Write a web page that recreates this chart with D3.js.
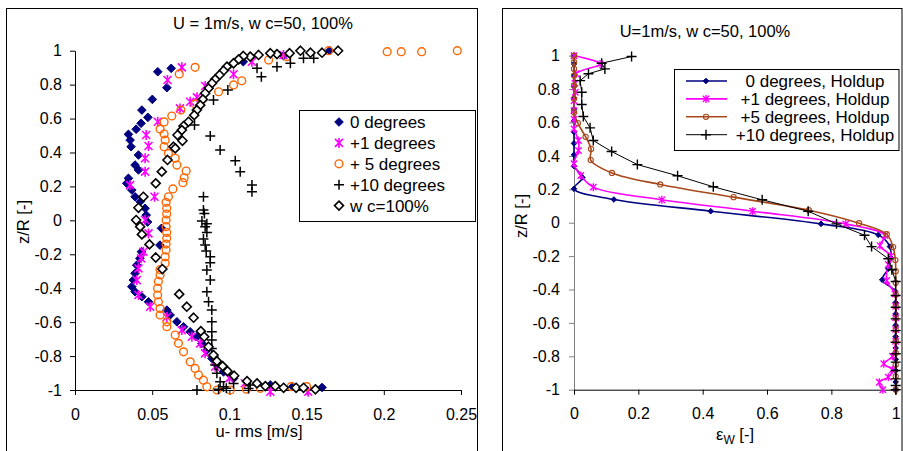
<!DOCTYPE html>
<html><head><meta charset="utf-8">
<script src="https://cdn.jsdelivr.net/npm/d3@7"></script>
<style>
body{margin:0;background:#fff}
svg{display:block}
text{font-family:"Liberation Sans",Arial,Helvetica,sans-serif;fill:#000}
</style>
</head><body>
<svg id="chart" width="903" height="451"></svg>
<script>
// ---------- u-rms profiles, [u-rms (m/s), z/R] ----------
const rms0deg = [[0.0536,0.876],[0.0623,0.896],[0.0595,0.782],[0.0501,0.713],[0.0433,0.650],[0.0472,0.607],[0.0428,0.572],[0.0396,0.537],[0.0346,0.507],[0.0357,0.473],[0.0363,0.434],[0.0411,0.385],[0.0389,0.326],[0.0411,0.297],[0.0346,0.248],[0.0335,0.218],[0.0368,0.179],[0.0389,0.139],[0.0422,0.110],[0.0454,0.071],[0.0461,0.031],[0.047,-0.01],[0.056,-0.047],[0.055,-0.146],[0.043,-0.185],[0.042,-0.224],[0.040,-0.264],[0.0389,-0.312],[0.0378,-0.352],[0.0368,-0.391],[0.0389,-0.421],[0.0433,-0.450],[0.0476,-0.480],[0.0595,-0.529],[0.0616,-0.558],[0.0660,-0.598],[0.0703,-0.627],[0.0746,-0.657],[0.0790,-0.686],[0.0822,-0.725],[0.0854,-0.765],[0.0887,-0.814],[0.0919,-0.853],[0.0962,-0.893],[0.1027,-0.932],[0.1114,-0.951],[0.1265,-0.97],[0.141,-0.98],[0.160,-0.985],[0.109,0.935],[0.135,0.97],[0.165,1.0]];
const rms1deg = [[0.0692,0.902],[0.0599,0.827],[0.0843,0.792],[0.1027,0.861],[0.079,0.725],[0.0746,0.699],[0.068,0.660],[0.0536,0.581],[0.0461,0.503],[0.0476,0.438],[0.0454,0.366],[0.0454,0.287],[0.0357,0.208],[0.0515,0.139],[0.0454,0.002],[0.0476,-0.077],[0.0443,-0.185],[0.0428,-0.224],[0.0411,-0.283],[0.040,-0.352],[0.0411,-0.440],[0.0487,-0.509],[0.0595,-0.57],[0.0692,-0.647],[0.0757,-0.686],[0.0811,-0.725],[0.0843,-0.784],[0.0908,-0.863],[0.1,-0.93],[0.11,-0.96],[0.1265,-1.01],[0.151,-1.01],[0.1146,0.935],[0.135,0.975]];
const rms5deg = [[0.2476,1.0],[0.2245,0.994],[0.2113,0.994],[0.2022,0.994],[0.1643,1.0],[0.1373,0.965],[0.1254,0.945],[0.108,0.823],[0.1027,0.798],[0.093,0.758],[0.0778,0.902],[0.0675,0.863],[0.0778,0.686],[0.0686,0.650],[0.0627,0.615],[0.0577,0.580],[0.0551,0.538],[0.0577,0.509],[0.0584,0.473],[0.0577,0.434],[0.0605,0.395],[0.0649,0.366],[0.066,0.326],[0.072,0.291],[0.0707,0.251],[0.0699,0.222],[0.0634,0.185],[0.0605,0.139],[0.059,0.106],[0.0594,0.071],[0.0594,0.037],[0.059,0.002],[0.059,-0.037],[0.0594,-0.071],[0.0594,-0.106],[0.059,-0.140],[0.059,-0.175],[0.0584,-0.215],[0.0584,-0.253],[0.0551,-0.290],[0.0551,-0.322],[0.054,-0.36],[0.0535,-0.40],[0.0535,-0.44],[0.054,-0.48],[0.0551,-0.52],[0.0551,-0.558],[0.0595,-0.598],[0.0595,-0.627],[0.0649,-0.676],[0.0670,-0.725],[0.0703,-0.775],[0.0746,-0.834],[0.0778,-0.873],[0.0800,-0.912],[0.0832,-0.942],[0.0854,-0.981],[0.092,-1.0],[0.1006,-1.0],[0.111,-0.995],[0.12,-0.99],[0.14,-0.98],[0.15,-0.98]];
const rms10deg = [[0.1395,0.926],[0.148,0.955],[0.1546,0.955],[0.1308,0.906],[0.1179,0.896],[0.1207,0.847],[0.099,0.768],[0.0897,0.709],[0.0774,0.562],[0.0876,0.497],[0.094,0.415],[0.1038,0.352],[0.107,0.287],[0.1146,0.208],[0.1146,0.169],[0.0832,0.139],[0.0832,0.061],[0.0838,0.041],[0.0822,-0.004],[0.0854,-0.02],[0.0843,-0.037],[0.0854,-0.071],[0.0832,-0.110],[0.0843,-0.146],[0.085,-0.181],[0.0876,-0.215],[0.0876,-0.25],[0.0854,-0.293],[0.0876,-0.352],[0.0854,-0.421],[0.0865,-0.48],[0.0886,-0.529],[0.0886,-0.598],[0.0886,-0.657],[0.0886,-0.706],[0.0886,-0.755],[0.0897,-0.804],[0.0908,-0.853],[0.0919,-0.902],[0.0940,-0.951],[0.0962,-0.981],[0.079,-1.0],[0.093,-0.996],[0.1027,-0.961],[0.1124,-0.991],[0.1135,-0.97],[0.098,-0.99]];
const rmsWc100 = [[0.1704,1.0],[0.160,0.988],[0.1525,0.988],[0.146,1.0],[0.139,0.985],[0.1308,0.98],[0.1265,0.985],[0.1189,0.975],[0.1135,0.965],[0.109,0.969],[0.106,0.949],[0.1027,0.926],[0.0984,0.906],[0.0962,0.882],[0.0936,0.857],[0.0908,0.831],[0.0887,0.808],[0.0865,0.778],[0.0843,0.749],[0.0828,0.713],[0.0811,0.679],[0.0789,0.650],[0.0772,0.62],[0.0735,0.581],[0.0703,0.556],[0.0692,0.532],[0.0664,0.503],[0.0696,0.469],[0.0638,0.434],[0.0649,0.424],[0.0599,0.356],[0.0562,0.287],[0.0523,0.218],[0.0443,0.139],[0.0411,0.074],[0.0396,0.002],[0.0422,-0.037],[0.0433,-0.083],[0.0482,-0.142],[0.0523,-0.219],[0.0566,-0.287],[0.0675,-0.435],[0.0724,-0.509],[0.0768,-0.574],[0.0815,-0.653],[0.0837,-0.686],[0.0865,-0.745],[0.0897,-0.794],[0.0919,-0.83],[0.0956,-0.859],[0.0988,-0.889],[0.1031,-0.916],[0.1114,-0.948],[0.1179,-0.961],[0.1233,-0.977],[0.1297,-0.977],[0.1351,-0.987],[0.1432,-0.987],[0.148,-0.987],[0.1557,-0.996]];

// ---------- water holdup profiles, [eps_w, z/R] ----------
const hold0deg = [[0,1.0],[0,0.951],[0,0.883],[0,0.815],[0,0.747],[0,0.679],[0,0.611],[0,0.543],[0,0.475],[0,0.407],[0,0.339],[0.026,0.271],[0,0.203],[0.124,0.139],[0.425,0.069],[0.768,-0.007],[0.946,-0.073],[0.982,-0.143],[0.985,-0.21],[0.977,-0.276],[0.958,-0.342],[0.998,-0.41],[1,-0.478],[1,-0.546],[1,-0.614],[1,-0.682],[1,-0.75],[1,-0.818],[1,-0.886],[1,-0.954],[1,-1.0]];
const hold1deg = [[0,1.0],[0.081,0.951],[0.006,0.892],[0.003,0.835],[0.004,0.781],[0,0.73],[0,0.67],[0,0.62],[0,0.562],[0.014,0.492],[0.014,0.432],[0,0.353],[0.021,0.283],[0.06,0.213],[0.273,0.137],[0.555,0.069],[0.845,-0.007],[0.967,-0.077],[0.951,-0.137],[0.985,-0.2],[0.977,-0.25],[0.972,-0.346],[0.998,-0.426],[1,-0.5],[1,-0.57],[1,-0.64],[1,-0.71],[0.99,-0.8],[0.963,-0.845],[0.99,-0.88],[0.977,-0.925],[0.949,-0.955],[0.96,-1.0]];
const hold5deg = [[0,1.0],[0,0.961],[0,0.921],[0,0.881],[0,0.822],[0,0.742],[0,0.662],[0.012,0.596],[0.036,0.514],[0.053,0.442],[0.052,0.375],[0.118,0.298],[0.268,0.229],[0.496,0.153],[0.73,0.075],[0.886,-0.003],[0.972,-0.069],[0.992,-0.146],[0.999,-0.224],[1,-0.29],[1,-0.36],[1,-0.43],[1,-0.5],[1,-0.57],[1,-0.64],[1,-0.71],[1,-0.78],[1,-0.85],[1,-0.92],[1,-1.0]];
const hold10deg = [[0.179,0.995],[0.086,0.955],[0.096,0.921],[0.045,0.892],[0.019,0.851],[0.024,0.781],[0.024,0.708],[0.029,0.636],[0.05,0.568],[0.06,0.492],[0.117,0.426],[0.197,0.348],[0.322,0.281],[0.433,0.215],[0.585,0.137],[0.728,0.069],[0.816,-0.007],[0.903,-0.075],[0.925,-0.143],[0.977,-0.216],[0.988,-0.282],[1,-0.352],[1,-0.436],[1,-0.506],[1,-0.576],[1,-0.646],[1,-0.716],[1,-0.785],[1,-0.835],[1,-0.885],[1,-0.935],[1,-0.975],[1,-1.0]];

// ---------- axes and labels ----------
const zTicks = [-1,-0.8,-0.6,-0.4,-0.2,0,0.2,0.4,0.6,0.8,1];
const rmsTicks = [0,0.05,0.1,0.15,0.2,0.25];
const holdTicks = [0,0.2,0.4,0.6,0.8,1];
const leftTitle = "U = 1m/s, w c=50, 100%";
const rightTitle = "U=1m/s, w c=50, 100%";
const leftLegend = ["0 degrees","+1 degrees","+ 5 degrees","+10 degrees","w c=100%"];
const rightLegend = ["0 degrees, Holdup","+1 degrees, Holdup","+5 degrees, Holdup","+10 degrees, Holdup"];

const NAVY = "#000080", MAGENTA = "#ff00ff", ORANGE = "#ff6600", BROWN = "#a8481a";

const svg = d3.select("#chart");
const fmt = d => String(Math.round(d * 100) / 100);

// marker painters: g = group, s = half size
const markers = {
  diamond: (g, s, color) => g.append("path").attr("d", `M0,${-s}L${s},0L0,${s}L${-s},0Z`).attr("fill", color).attr("stroke", color).attr("stroke-width", 1),
  openDiamond: (g, s) => g.append("path").attr("d", `M0,${-s}L${s},0L0,${s}L${-s},0Z`).attr("fill", "#fff").attr("stroke", "#000").attr("stroke-width", 1.6),
  star: (g, s, color, w) => g.append("path").attr("d", `M${-s*0.8},${-s*0.8}L${s*0.8},${s*0.8}M${-s*0.8},${s*0.8}L${s*0.8},${-s*0.8}M0,${-s}L0,${s}`).attr("fill", "none").attr("stroke", color).attr("stroke-width", w || 1.6),
  circle: (g, s, color, w) => g.append("circle").attr("r", s).attr("fill", "none").attr("stroke", color).attr("stroke-width", w || 1.4),
  plus: (g, s, color, w) => g.append("path").attr("d", `M${-s},0L${s},0M0,${-s}L0,${s}`).attr("fill", "none").attr("stroke", color).attr("stroke-width", w || 1.5)
};

function drawMarkers(layer, data, x, y, paint) {
  layer.append("g").selectAll("g").data(data).join("g")
    .attr("transform", d => `translate(${x(d[0])},${y(d[1])})`)
    .each(function () { paint(d3.select(this)); });
}

// ---------- outer frames ----------
svg.append("rect").attr("x", 6.5).attr("y", 8.5).attr("width", 471).attr("height", 460).attr("fill", "none").attr("stroke", "#000");
svg.append("rect").attr("x", 502.5).attr("y", 8.5).attr("width", 399.5).attr("height", 460).attr("fill", "none").attr("stroke", "#000");

// ================= left chart: u-rms =================
const xL = d3.scaleLinear().domain([0, 0.25]).range([75, 461]);
const yL = d3.scaleLinear().domain([-1, 1]).range([390, 50.7]);
const L = svg.append("g");

L.append("g").attr("transform", `translate(75,0)`)
  .call(d3.axisLeft(yL).tickValues(zTicks).tickFormat(fmt).tickSize(5).tickSizeOuter(0).tickPadding(8))
  .call(g => g.selectAll("text").attr("font-size", 16).attr("fill", "#000"))
  .call(g => g.selectAll("line,path").attr("stroke", "#000"));
L.append("g").attr("transform", `translate(0,390)`)
  .call(d3.axisBottom(xL).tickValues(rmsTicks).tickFormat(fmt).tickSize(5).tickSizeOuter(0).tickPadding(14))
  .call(g => g.selectAll("text").attr("font-size", 16).attr("fill", "#000"))
  .call(g => g.selectAll("line,path").attr("stroke", "#000"));

L.append("text").attr("x", 263).attr("y", 29).attr("text-anchor", "middle").attr("font-size", 16.5).text(leftTitle);
L.append("text").attr("x", 259).attr("y", 437).attr("text-anchor", "middle").attr("font-size", 16.5).text("u- rms [m/s]");
L.append("text").attr("transform", "translate(29,222) rotate(-90)").attr("text-anchor", "middle").attr("font-size", 16.5).text("z/R [-]");

drawMarkers(L, rms0deg, xL, yL, g => markers.diamond(g, 4.3, NAVY));
drawMarkers(L, rms1deg, xL, yL, g => markers.star(g, 5, MAGENTA));
drawMarkers(L, rms5deg, xL, yL, g => markers.circle(g, 3.9, ORANGE));
drawMarkers(L, rms10deg, xL, yL, g => markers.plus(g, 5, "#000"));
drawMarkers(L, rmsWc100, xL, yL, g => markers.openDiamond(g, 4.5));

// left legend
const legL = L.append("g");
legL.append("rect").attr("x", 299.5).attr("y", 110.5).attr("width", 176).attr("height", 111).attr("fill", "#fff").attr("stroke", "#000");
const legLPaint = [
  g => markers.diamond(g, 4.3, NAVY),
  g => markers.star(g, 5, MAGENTA),
  g => markers.circle(g, 3.9, ORANGE),
  g => markers.plus(g, 5, "#000"),
  g => markers.openDiamond(g, 4.5)
];
leftLegend.forEach((t, i) => {
  const cy = 122 + i * 20.9;
  legLPaint[i](legL.append("g").attr("transform", `translate(339,${cy})`));
  legL.append("text").attr("x", 350).attr("y", cy + 6).attr("font-size", 17).text(t);
});

// ================= right chart: holdup =================
const xR = d3.scaleLinear().domain([0, 1]).range([574, 895.7]);
const yR = d3.scaleLinear().domain([-1, 1]).range([389.7, 55.7]);
const R = svg.append("g");

R.append("g").attr("transform", `translate(574,0)`)
  .call(d3.axisLeft(yR).tickValues(zTicks).tickFormat(fmt).tickSize(5).tickSizeOuter(0).tickPadding(9))
  .call(g => g.selectAll("text").attr("font-size", 16).attr("fill", "#000"))
  .call(g => g.selectAll("line,path").attr("stroke", "#808080"));
R.append("g").attr("transform", `translate(0,389.7)`)
  .call(d3.axisBottom(xR).tickValues(holdTicks).tickFormat(fmt).tickSize(5).tickSizeOuter(0).tickPadding(13))
  .call(g => g.selectAll("text").attr("font-size", 16).attr("fill", "#000"))
  .call(g => g.selectAll("line,path").attr("stroke", "#000"));

R.append("text").attr("x", 705).attr("y", 37).attr("text-anchor", "middle").attr("font-size", 16.5).text(rightTitle);
const xlab = R.append("text").attr("x", 735).attr("y", 440).attr("text-anchor", "middle").attr("font-size", 16.5);
xlab.append("tspan").text("ε");
xlab.append("tspan").attr("font-size", 12).attr("dy", 4).text("W");
xlab.append("tspan").attr("dy", -4).text(" [-]");
R.append("text").attr("transform", "translate(527,216) rotate(-90)").attr("text-anchor", "middle").attr("font-size", 16.5).text("z/R [-]");

const holdSeries = [
  {data: hold0deg, color: NAVY, width: 1.6, curve: d3.curveCatmullRom.alpha(0.5), paint: g => markers.diamond(g, 2.8, NAVY)},
  {data: hold1deg, color: MAGENTA, width: 1.6, curve: d3.curveCatmullRom.alpha(0.5), paint: g => markers.star(g, 4, MAGENTA, 1.4)},
  {data: hold5deg, color: BROWN, width: 1.6, curve: d3.curveCatmullRom.alpha(0.5), paint: g => markers.circle(g, 2.6, BROWN, 1.1)},
  {data: hold10deg, color: "#000", width: 1, curve: d3.curveLinear, paint: g => markers.plus(g, 5, "#000", 1.4)}
];
holdSeries.forEach(s => {
  R.append("path").datum(s.data)
    .attr("d", d3.line().x(d => xR(d[0])).y(d => yR(d[1])).curve(s.curve))
    .attr("fill", "none").attr("stroke", s.color).attr("stroke-width", s.width);
  drawMarkers(R, s.data, xR, yR, s.paint);
});

// right legend
const legR = R.append("g");
legR.append("rect").attr("x", 674.5).attr("y", 69.5).attr("width", 224.5).attr("height", 81).attr("fill", "#fff").attr("stroke", "#000");
rightLegend.forEach((t, i) => {
  const cy = 81 + i * 17.9;
  const s = holdSeries[i];
  legR.append("line").attr("x1", 686).attr("x2", 727).attr("y1", cy).attr("y2", cy).attr("stroke", s.color).attr("stroke-width", s.width);
  s.paint(legR.append("g").attr("transform", `translate(706,${cy})`));
  legR.append("text").attr("x", 815).attr("y", cy + 6).attr("text-anchor", "middle").attr("font-size", 17).text(t);
});
</script>
</body></html>
